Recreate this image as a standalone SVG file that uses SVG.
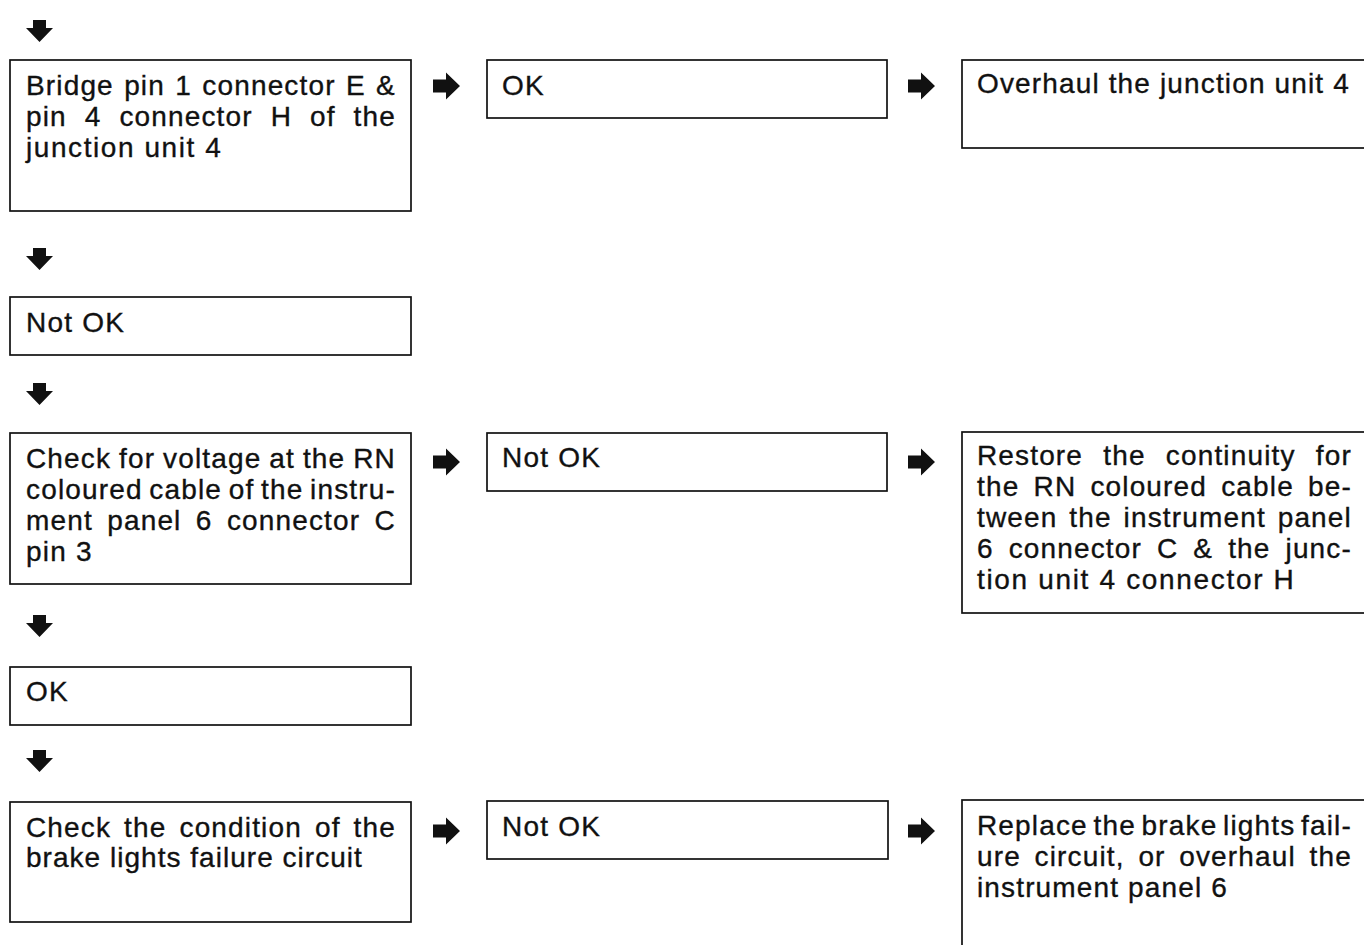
<svg xmlns="http://www.w3.org/2000/svg" width="1364" height="945" viewBox="0 0 1364 945">
<style>
  .box { fill: #fff; stroke: #111; stroke-width: 1.7; }
  .t { font-family: "Liberation Sans", Arial, sans-serif; font-size: 28px; fill: #111; stroke: #111; stroke-width: 0.35; letter-spacing: 1.2px; }
  .arr { fill: #111; }
</style>
<defs>
  <path id="darr" d="M-6.5,0 H6.5 V8 H13.5 L0,22 L-13.5,8 H-6.5 Z"/>
  <path id="rarr" d="M0,-6.5 H13 V-13.5 L27,0 L13,13.5 V6.5 H0 Z"/>
</defs>
<rect width="1364" height="945" fill="#fff"/>

<g id="connectors" class="arr">
  <use href="#darr" x="39.5" y="20"/>
  <use href="#darr" x="39.5" y="248"/>
  <use href="#darr" x="39.5" y="383"/>
  <use href="#darr" x="39.5" y="615"/>
  <use href="#darr" x="39.5" y="750"/>
  <use href="#rarr" x="433" y="86"/>
  <use href="#rarr" x="908" y="86"/>
  <use href="#rarr" x="433" y="462"/>
  <use href="#rarr" x="908" y="462"/>
  <use href="#rarr" x="433" y="831"/>
  <use href="#rarr" x="908" y="831"/>
</g>

<g id="node-bridge">
  <rect class="box" x="10" y="60" width="401" height="151"/>
  <text class="t" x="26" y="95" word-spacing="1.4" textLength="370" lengthAdjust="spacing">Bridge pin 1 connector E &amp;</text>
  <text class="t" x="26" y="126" word-spacing="9" textLength="370" lengthAdjust="spacing">pin 4 connector H of the</text>
  <text class="t" x="26" y="157" textLength="196" lengthAdjust="spacing">junction unit 4</text>
</g>

<g id="node-ok1">
  <rect class="box" x="487" y="60" width="400" height="58"/>
  <text class="t" x="502" y="95">OK</text>
</g>

<g id="node-overhaul">
  <rect class="box" x="962" y="60" width="410" height="88"/>
  <text class="t" x="977" y="93" textLength="373" lengthAdjust="spacing">Overhaul the junction unit 4</text>
</g>

<g id="node-notok1">
  <rect class="box" x="10" y="297" width="401" height="58"/>
  <text class="t" x="26" y="332">Not OK</text>
</g>

<g id="node-check-voltage">
  <rect class="box" x="10" y="433" width="401" height="151"/>
  <text class="t" x="26" y="468" word-spacing="-1" textLength="370" lengthAdjust="spacing">Check for voltage at the RN</text>
  <text class="t" x="26" y="499" word-spacing="-2.3" textLength="370" lengthAdjust="spacing">coloured cable of the instru-</text>
  <text class="t" x="26" y="530" word-spacing="5.4" textLength="370" lengthAdjust="spacing">ment panel 6 connector C</text>
  <text class="t" x="26" y="561">pin 3</text>
</g>

<g id="node-notok2">
  <rect class="box" x="487" y="433" width="400" height="58"/>
  <text class="t" x="502" y="467">Not OK</text>
</g>

<g id="node-restore">
  <rect class="box" x="962" y="432" width="410" height="181"/>
  <text class="t" x="977" y="465" word-spacing="11.3" textLength="375" lengthAdjust="spacing">Restore the continuity for</text>
  <text class="t" x="977" y="496" word-spacing="5.2" textLength="375" lengthAdjust="spacing">the RN coloured cable be-</text>
  <text class="t" x="977" y="527" word-spacing="2.9" textLength="375" lengthAdjust="spacing">tween the instrument panel</text>
  <text class="t" x="977" y="558" word-spacing="6.1" textLength="375" lengthAdjust="spacing">6 connector C &amp; the junc-</text>
  <text class="t" x="977" y="589" textLength="318" lengthAdjust="spacing">tion unit 4 connector H</text>
</g>

<g id="node-ok2">
  <rect class="box" x="10" y="667" width="401" height="58"/>
  <text class="t" x="26" y="701">OK</text>
</g>

<g id="node-check-condition">
  <rect class="box" x="10" y="802" width="401" height="120"/>
  <text class="t" x="26" y="837" word-spacing="4.1" textLength="370" lengthAdjust="spacing">Check the condition of the</text>
  <text class="t" x="26" y="867" textLength="337" lengthAdjust="spacing">brake lights failure circuit</text>
</g>

<g id="node-notok3">
  <rect class="box" x="487" y="801" width="401" height="58"/>
  <text class="t" x="502" y="836">Not OK</text>
</g>

<g id="node-replace">
  <rect class="box" x="962" y="800" width="410" height="160"/>
  <text class="t" x="977" y="835" word-spacing="-3.2" textLength="375" lengthAdjust="spacing">Replace the brake lights fail-</text>
  <text class="t" x="977" y="866" word-spacing="4.7" textLength="375" lengthAdjust="spacing">ure circuit, or overhaul the</text>
  <text class="t" x="977" y="897" textLength="251" lengthAdjust="spacing">instrument panel 6</text>
</g>
</svg>
